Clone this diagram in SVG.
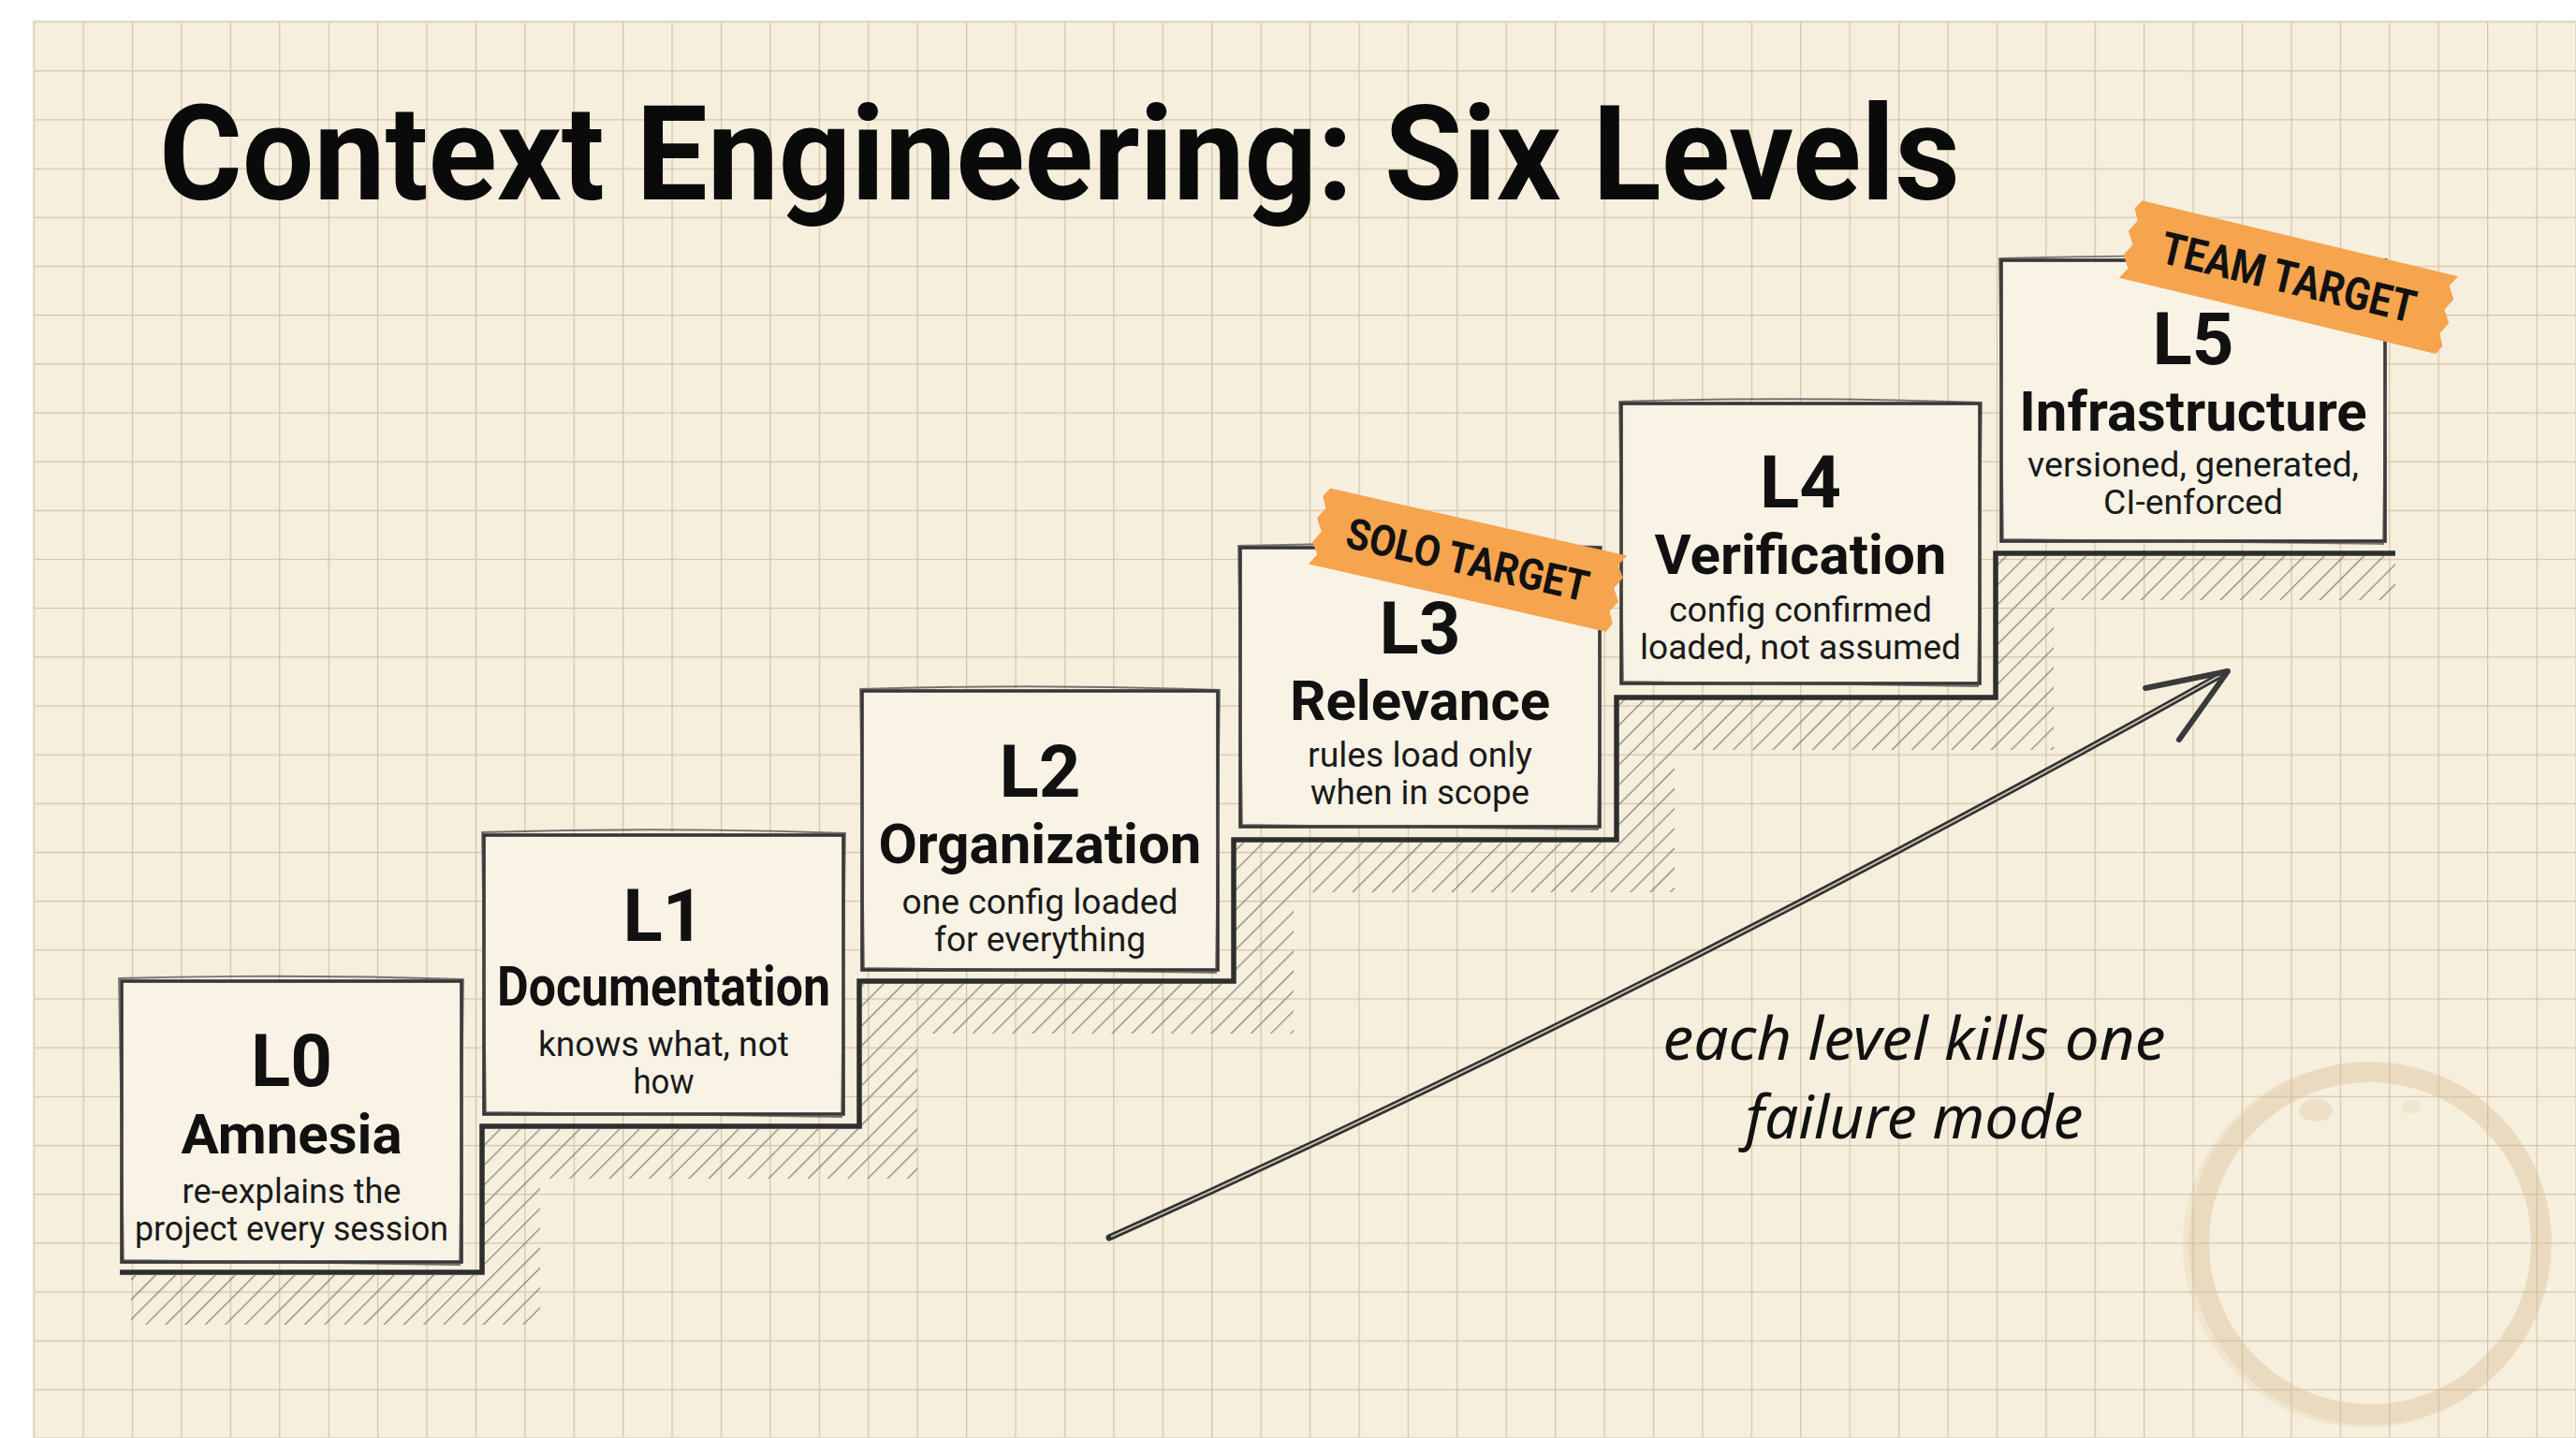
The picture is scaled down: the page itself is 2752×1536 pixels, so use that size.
<svg xmlns="http://www.w3.org/2000/svg" width="2752" height="1536" viewBox="0 0 2752 1536">
<defs>
<pattern id="grid" patternUnits="userSpaceOnUse" x="36" y="23" width="52.42" height="52.17">
<rect width="52.42" height="52.17" fill="#f7efdd"/>
<path d="M0,0 V52.17 M0,0 H52.42" stroke="#d2c4aa" stroke-width="2.5" fill="none"/>
</pattern>
<pattern id="hatch" patternUnits="userSpaceOnUse" width="15" height="15" patternTransform="rotate(45)">
<line x1="0" y1="0" x2="0" y2="15" stroke="#7c7c7c" stroke-width="2.6"/>
</pattern>
<style>
.box{fill:#f9f3e5;stroke:#363636;stroke-width:3.6}
.sk{fill:none;stroke:#4a4a4a;stroke-width:1.8;opacity:.75}
.lv{font-family:Roboto,"Liberation Sans",sans-serif;font-weight:700;font-size:78px;fill:#111;text-anchor:middle}
.nm{font-family:Roboto,"Liberation Sans",sans-serif;font-weight:700;font-size:60px;fill:#111;text-anchor:middle}
.ds{font-family:Roboto,"Liberation Sans",sans-serif;font-weight:400;font-size:37px;fill:#1a1a1a;text-anchor:middle}
.tape{fill:#f6a44e}
.tt{font-family:Roboto,"Liberation Sans",sans-serif;font-weight:700;fill:#111;text-anchor:middle}
.hand{font-family:"Noto Sans","Open Sans",sans-serif;font-style:italic;font-size:64px;fill:#111;text-anchor:middle}
</style>
</defs>

<rect width="2752" height="1536" fill="#ffffff"/>
<rect x="36" y="23" width="2716" height="1513" fill="url(#grid)" stroke="#e2d9c7" stroke-width="2"/>

<!-- coffee ring -->
<g id="coffee-ring" opacity="0.38">
<circle cx="2532" cy="1328" r="183" fill="none" stroke="#d6bb92" stroke-width="22"/>
<circle cx="2527" cy="1330" r="190" fill="none" stroke="#d6bb92" stroke-width="10" opacity="0.5"/>
<ellipse cx="2474" cy="1186" rx="18" ry="12" fill="#d6bb92" opacity="0.7"/>
<ellipse cx="2576" cy="1182" rx="11" ry="7" fill="#d6bb92" opacity="0.5"/>
</g>

<!-- title -->
<text x="170" y="213" font-family="Roboto,'Liberation Sans',sans-serif" font-weight="700" font-size="141" fill="#0a0a0a" textLength="1924" lengthAdjust="spacingAndGlyphs">Context Engineering: Six Levels</text>

<!-- stair hatching -->
<g id="stairs">
<path d="M140,1362 H515 V1206 H918 V1051 H1318 V900 H1727 V748 H2132 V594 H2559 V641 H2194 V801 H1789 V953 H1382 V1104 H980 V1259 H577 V1415 H140 Z" fill="url(#hatch)" opacity="0.9"/>
<path d="M128,1359 H515 V1203 H918 V1048 H1318 V897 H1727 V745 H2132 V591 H2559" fill="none" stroke="#2e2e2e" stroke-width="5.5" stroke-linejoin="miter"/>
</g>

<!-- nodes -->
<g id="node-L0">
<rect class="box" x="130" y="1048" width="363" height="300"/>
<path class="sk" d="M127,1045 Q311,1040 495,1046 L491,1351 L132,1346 Z"/>
<text class="lv" x="311.5" y="1160">L0</text>
<text class="nm" x="311.5" y="1232">Amnesia</text>
<text class="ds" x="311.5" y="1285" textLength="234" lengthAdjust="spacingAndGlyphs">re-explains the</text>
<text class="ds" x="311.5" y="1325" textLength="335" lengthAdjust="spacingAndGlyphs">project every session</text>
</g>

<g id="node-L1">
<rect class="box" x="517" y="892" width="384" height="298"/>
<path class="sk" d="M515,889 Q709,883 903,890 L899,1193 L519,1188 Z"/>
<text class="lv" x="709" y="1005">L1</text>
<text class="nm" x="709" y="1074" font-size="54" textLength="356" lengthAdjust="spacingAndGlyphs">Documentation</text>
<text class="ds" x="709" y="1128" textLength="268" lengthAdjust="spacingAndGlyphs">knows what, not</text>
<text class="ds" x="709" y="1168" textLength="65" lengthAdjust="spacingAndGlyphs">how</text>
</g>

<g id="node-L2">
<rect class="box" x="921" y="738" width="380" height="298"/>
<path class="sk" d="M919,736 Q1111,730 1303,737 L1299,1039 L923,1034 Z"/>
<text class="lv" x="1111" y="851">L2</text>
<text class="nm" x="1111" y="922">Organization</text>
<text class="ds" x="1111" y="976" textLength="295" lengthAdjust="spacingAndGlyphs">one config loaded</text>
<text class="ds" x="1111" y="1016" textLength="226" lengthAdjust="spacingAndGlyphs">for everything</text>
</g>

<g id="node-L3">
<rect class="box" x="1325" y="585" width="384" height="298"/>
<path class="sk" d="M1323,583 Q1517,578 1711,584 L1707,886 L1327,881 Z"/>
<text class="lv" x="1517" y="698">L3</text>
<text class="nm" x="1517" y="769">Relevance</text>
<text class="ds" x="1517" y="819" textLength="240" lengthAdjust="spacingAndGlyphs">rules load only</text>
<text class="ds" x="1517" y="859" textLength="234" lengthAdjust="spacingAndGlyphs">when in scope</text>
</g>

<g id="node-L4">
<rect class="box" x="1732" y="431" width="383" height="299"/>
<path class="sk" d="M1730,429 Q1924,423 2117,430 L2113,733 L1734,728 Z"/>
<text class="lv" x="1923.5" y="542">L4</text>
<text class="nm" x="1923.5" y="613">Verification</text>
<text class="ds" x="1923.5" y="664" textLength="281" lengthAdjust="spacingAndGlyphs">config confirmed</text>
<text class="ds" x="1923.5" y="704" textLength="343" lengthAdjust="spacingAndGlyphs">loaded, not assumed</text>
</g>

<g id="node-L5">
<rect class="box" x="2138" y="278" width="410" height="300"/>
<path class="sk" d="M2136,276 Q2343,270 2550,277 L2546,581 L2140,576 Z"/>
<text class="lv" x="2343" y="389">L5</text>
<text class="nm" x="2343" y="460">Infrastructure</text>
<text class="ds" x="2343" y="509" textLength="354" lengthAdjust="spacingAndGlyphs">versioned, generated,</text>
<text class="ds" x="2343" y="549" textLength="192" lengthAdjust="spacingAndGlyphs">CI-enforced</text>
</g>

<!-- tapes -->
<g id="tape-solo" transform="translate(1568,598) rotate(12.8)">
<path class="tape" d="M-160,-42 L165,-42 L158,-30 L166,-18 L159,-5 L167,8 L160,20 L166,32 L161,42 L-165,42 L-158,30 L-166,18 L-159,5 L-167,-8 L-160,-20 L-166,-32 Z"/>
<text class="tt" x="0" y="16" font-size="46" textLength="264" lengthAdjust="spacingAndGlyphs">SOLO TARGET</text>
</g>

<g id="tape-team" transform="translate(2445,296) rotate(13.5)">
<path class="tape" d="M-171,-43 L176,-43 L169,-31 L177,-18 L170,-5 L178,8 L171,21 L177,33 L172,43 L-176,43 L-169,31 L-177,18 L-170,5 L-178,-8 L-171,-21 L-177,-33 Z"/>
<text class="tt" x="0" y="17" font-size="48" textLength="278" lengthAdjust="spacingAndGlyphs">TEAM TARGET</text>
</g>

<!-- connectors -->
<g id="connectors">
<path d="M1185,1322 Q1769,1059 2378,718" fill="none" stroke="#333" stroke-width="7" stroke-linecap="round"/>
<path d="M1187,1321 Q1769,1059 2376,719" fill="none" stroke="#cfc6b4" stroke-width="1.8"/>
<path d="M2292,735 L2380,717 L2328,790" fill="none" stroke="#3a3a3a" stroke-width="6" stroke-linecap="round" stroke-linejoin="round"/>
</g>

<text class="hand" x="2045" y="1132" textLength="537" lengthAdjust="spacingAndGlyphs">each level kills one</text>
<text class="hand" x="2045" y="1216" textLength="361" lengthAdjust="spacingAndGlyphs">failure mode</text>
</svg>
